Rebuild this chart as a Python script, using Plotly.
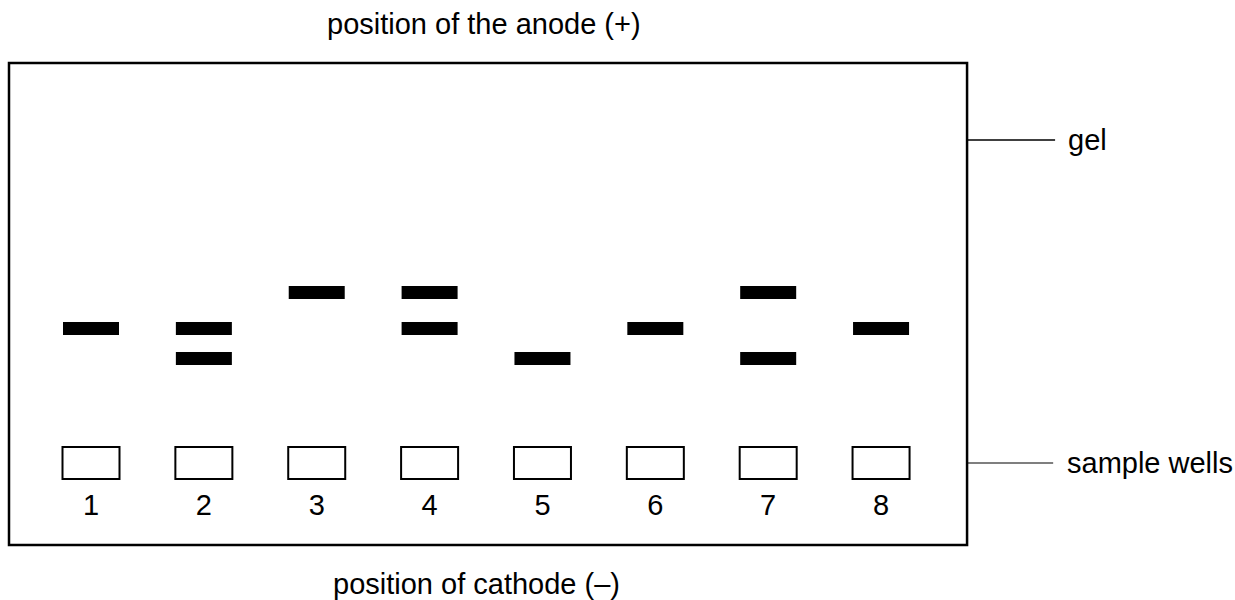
import plotly.graph_objects as go

# ---- data ----
lanes = [1, 2, 3, 4, 5, 6, 7, 8]
lane_labels = ["1", "2", "3", "4", "5", "6", "7", "8"]
# migration distance of each band from the sample well (px-scaled units)
band_lane = [1, 2, 2, 3, 4, 4, 5, 6, 7, 7, 8]
band_dist = [134.5, 134.5, 104.5, 170.5, 170.5, 134.5, 104.5, 134.5, 170.5, 104.5, 134.5]
gel_x = [0.2734, 8.762]
gel_y = [-82, 400]
label_dist = -45
gel_label = "gel"
wells_label = "sample wells"
top_label = "position of the anode (+)"
bottom_label = "position of cathode (–)"

# ---- style ----
FONT = "Liberation Sans, Arial, Helvetica, sans-serif"
FS = 29
LANE_PX = 112.86
band_w = 56 / LANE_PX
band_h = 13
well_w = 57 / LANE_PX
well_h = 32

fig = go.Figure()
shapes = []

# gel outline
shapes.append(dict(type="rect", xref="x", yref="y", x0=gel_x[0], x1=gel_x[1],
                   y0=gel_y[0], y1=gel_y[1], line=dict(color="black", width=2.5)))

# bands
for ln, d in zip(band_lane, band_dist):
    shapes.append(dict(type="rect", xref="x", yref="y",
                       x0=ln - band_w / 2, x1=ln + band_w / 2,
                       y0=d - band_h / 2, y1=d + band_h / 2,
                       fillcolor="black", line=dict(width=0)))

# wells
for ln in lanes:
    shapes.append(dict(type="rect", xref="x", yref="y",
                       x0=ln - well_w / 2, x1=ln + well_w / 2,
                       y0=-well_h / 2, y1=well_h / 2,
                       fillcolor="white", line=dict(color="black", width=2)))

# leader lines
gel_lead_y = 323
shapes.append(dict(type="line", xref="x", yref="y", x0=gel_x[1], x1=9.542,
                   y0=gel_lead_y, y1=gel_lead_y, line=dict(color="black", width=1.5)))
shapes.append(dict(type="line", xref="x", yref="y", x0=gel_x[1], x1=9.525,
                   y0=0, y1=0, line=dict(color="black", width=1.2)))

# lane numbers
fig.add_trace(go.Scatter(x=lanes, y=[label_dist] * len(lanes), mode="text",
                         text=lane_labels, textposition="middle center",
                         textfont=dict(family=FONT, size=FS, color="black"),
                         hoverinfo="skip", showlegend=False))

annotations = [
    dict(x=9.64, y=gel_lead_y, xref="x", yref="y", text=gel_label, showarrow=False,
         xanchor="left", yanchor="middle", font=dict(family=FONT, size=FS, color="black")),
    dict(x=9.63, y=0, xref="x", yref="y", text=wells_label, showarrow=False,
         xanchor="left", yanchor="middle", font=dict(family=FONT, size=FS, color="black")),
    dict(x=484 / 1235, y=1 - 24 / 600, xref="paper", yref="paper", text=top_label,
         showarrow=False, xanchor="center", yanchor="middle",
         font=dict(family=FONT, size=FS, color="black")),
    dict(x=476 / 1235, y=1 - 584 / 600, xref="paper", yref="paper", text=bottom_label,
         showarrow=False, xanchor="center", yanchor="middle",
         font=dict(family=FONT, size=FS, color="black")),
]

fig.update_layout(
    width=1235, height=600,
    margin=dict(l=0, r=0, t=0, b=0),
    paper_bgcolor="white", plot_bgcolor="white",
    shapes=shapes, annotations=annotations,
    xaxis=dict(range=[0.1937, 11.136], visible=False, fixedrange=True),
    yaxis=dict(range=[-137, 463], visible=False, fixedrange=True),
    showlegend=False,
)

fig.write_html(
    "out.html",
    config={"displayModeBar": False},
    post_script="document.body.style.margin='0';document.body.style.overflow='hidden';",
)
